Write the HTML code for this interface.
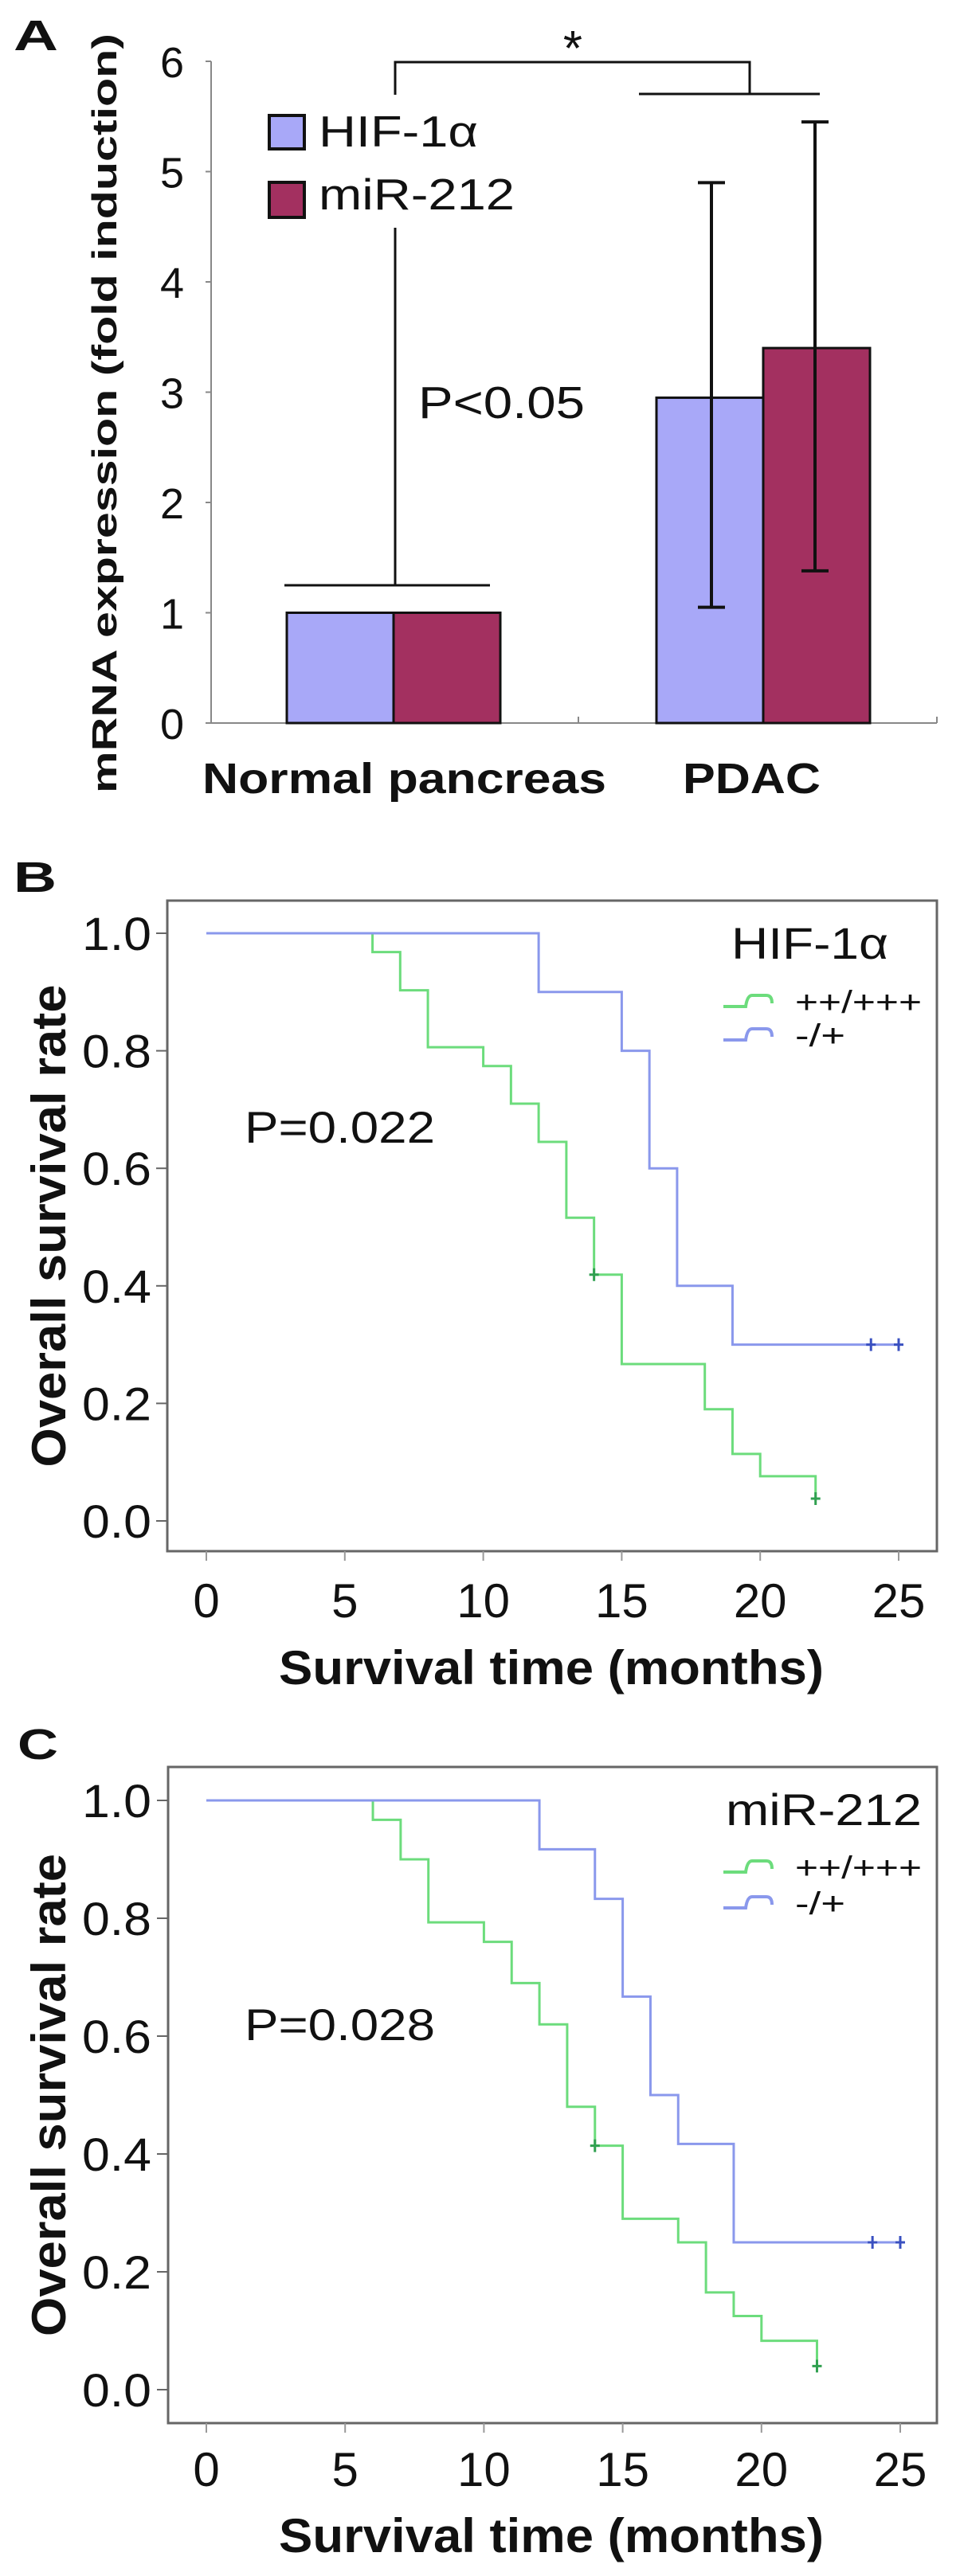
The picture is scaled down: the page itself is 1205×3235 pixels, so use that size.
<!DOCTYPE html>
<html><head><meta charset="utf-8"><style>
html,body{margin:0;padding:0;background:#fff;}
svg{display:block;}
text{font-family:"Liberation Sans",Arial,sans-serif;fill:#111;}
</style></head><body>
<svg id="fig" width="1205" height="3235" viewBox="0 0 1205 3235">
<g id="panelA">
<text x="17" y="63" font-size="54" font-weight="bold" textLength="56" lengthAdjust="spacingAndGlyphs">A</text>
<text transform="translate(146,519) rotate(-90)" text-anchor="middle" font-size="44" font-weight="bold" textLength="954" lengthAdjust="spacingAndGlyphs">mRNA expression (fold induction)</text>
<g id="aAxes"></g>
<g id="aBars"></g>
<text x="254" y="996" font-size="54" font-weight="bold" textLength="507" lengthAdjust="spacingAndGlyphs">Normal pancreas</text>
<text x="857" y="996" font-size="54" font-weight="bold" textLength="173" lengthAdjust="spacingAndGlyphs">PDAC</text>
<rect x="338" y="145" width="44" height="42" fill="#a8a8f8" stroke="#111" stroke-width="4"/>
<text x="400" y="184" font-size="55" textLength="200" lengthAdjust="spacingAndGlyphs">HIF-1α</text>
<rect x="338" y="229" width="44" height="44" fill="#a33060" stroke="#111" stroke-width="4"/>
<text x="400" y="263" font-size="55" textLength="246" lengthAdjust="spacingAndGlyphs">miR-212</text>
<text x="525" y="525" font-size="57" textLength="209" lengthAdjust="spacingAndGlyphs">P&lt;0.05</text>
<text x="719" y="82" font-size="62" text-anchor="middle">*</text>
<path d="M357,735 H615 M496,735 V286 M496,119 V78 H941 V118 M802,118 H1029" fill="none" stroke="#111" stroke-width="3"/>
</g>
<g id="panelB">
<text x="17" y="1120" font-size="54" font-weight="bold" textLength="54" lengthAdjust="spacingAndGlyphs">B</text>
<g id="bPlot"></g>
<text x="918" y="1204" font-size="56" textLength="197" lengthAdjust="spacingAndGlyphs">HIF-1α</text>
<text x="307" y="1435" font-size="56" textLength="239" lengthAdjust="spacingAndGlyphs">P=0.022</text>
</g>
<g id="panelC">
<text x="22" y="2209" font-size="54" font-weight="bold" textLength="51" lengthAdjust="spacingAndGlyphs">C</text>
<g id="cPlot"></g>
<text x="911" y="2292" font-size="56" textLength="246" lengthAdjust="spacingAndGlyphs">miR-212</text>
<text x="307" y="2562" font-size="56" textLength="239" lengthAdjust="spacingAndGlyphs">P=0.028</text>
</g>
</svg>
<script>
const aGroups = ["Normal pancreas", "PDAC"];
const aHif = [1.0, 2.95];
const aMir = [1.0, 3.4];
const aHifLo = [null, 1.05];
const aHifHi = [null, 4.9];
const aMirLo = [null, 1.38];
const aMirHi = [null, 5.45];
const aTicks = [0, 1, 2, 3, 4, 5, 6];

const bTicksX = [0, 5, 10, 15, 20, 25];
const bTicksY = ["0.0", "0.2", "0.4", "0.6", "0.8", "1.0"];
const bHighT = [6, 7, 8, 10, 11, 12, 13, 14, 15, 18, 19, 20, 22];
const bHighS = [0.968, 0.903, 0.806, 0.774, 0.71, 0.645, 0.516, 0.419, 0.267, 0.19, 0.114, 0.076, 0.038];
const bHighEnd = 22;
const bHighCens = [14, 22];
const bLowT = [12, 15, 16, 17, 19];
const bLowS = [0.9, 0.8, 0.6, 0.4, 0.3];
const bLowEnd = 25;
const bLowCens = [24, 25];

const cHighT = [6, 7, 8, 10, 11, 12, 13, 14, 15, 17, 18, 19, 20, 22];
const cHighS = [0.967, 0.9, 0.793, 0.76, 0.69, 0.62, 0.48, 0.414, 0.29, 0.25, 0.165, 0.125, 0.083, 0.04];
const cHighEnd = 22;
const cHighCens = [14, 22];
const cLowT = [12, 14, 15, 16, 17, 19];
const cLowS = [0.917, 0.833, 0.667, 0.5, 0.417, 0.25];
const cLowEnd = 25;
const cLowCens = [24, 25];

const NS = "http://www.w3.org/2000/svg";
function mk(parent, tag, attrs, txt) {
  const e = document.createElementNS(NS, tag);
  for (const k in attrs) e.setAttribute(k, attrs[k]);
  if (txt !== undefined) e.textContent = txt;
  parent.appendChild(e);
  return e;
}

(function(){
  const y = v => 908 - v * 138.5;
  const ax = document.getElementById("aAxes");
  const axisLine = mk(ax, "path", {d:"M265,77 V908 H1176 M726,908 V900 M1176,908 V900", fill:"none", stroke:"#888", "stroke-width":2});
  
  
  aTicks.forEach(t => {
    const tk = mk(ax, "line", {x1:258, x2:265, y1:y(t), y2:y(t), stroke:"#888", "stroke-width":2});
    
    
    const lb = mk(ax, "text", {x:231, y:y(t)+20, "font-size":54, "text-anchor":"end"}, String(t));
    
    
  });
  const bars = document.getElementById("aBars");
  const groupLeft = [360, 824];
  const bw = 134;
  aGroups.forEach((g, i) => {
    const x0 = groupLeft[i];
    const r1 = mk(bars, "rect", {x:x0, y:y(aHif[i]), width:bw, height:y(0)-y(aHif[i]), fill:"#a8a8f8", stroke:"#111", "stroke-width":3});
    
    
    const r2 = mk(bars, "rect", {x:x0+bw, y:y(aMir[i]), width:bw, height:y(0)-y(aMir[i]), fill:"#a33060", stroke:"#111", "stroke-width":3});
    
    
    if (aHifLo[i] !== null) {
      const cx = x0 + bw/2 + 2;
      const e = mk(bars, "path", {d:`M${cx},${y(aHifLo[i])} V${y(aHifHi[i])} M${cx-17},${y(aHifHi[i])} H${cx+17} M${cx-17},${y(aHifLo[i])} H${cx+17}`, stroke:"#111", "stroke-width":4, fill:"none"});
      
      
    }
    if (aMirLo[i] !== null) {
      const cx = x0 + bw + bw/2 - 2;
      const e = mk(bars, "path", {d:`M${cx},${y(aMirLo[i])} V${y(aMirHi[i])} M${cx-17},${y(aMirHi[i])} H${cx+17} M${cx-17},${y(aMirLo[i])} H${cx+17}`, stroke:"#111", "stroke-width":4, fill:"none"});
      
      
    }
  });
})();

function survival(gid, box, y1px, y0px, x0px, x25px, high, low, tickLabY, titleY, legY) {
  const g = document.getElementById(gid);
  const xs = t => x0px + (x25px - x0px) * t / 25;
  const ys = s => y0px + (y1px - y0px) * s;
  const fr = mk(g, "rect", {x:box[0], y:box[1], width:box[2]-box[0], height:box[3]-box[1], fill:"none", stroke:"#666", "stroke-width":3});
  
  
  bTicksY.forEach((lab) => {
    const v = parseFloat(lab);
    const tk = mk(g, "line", {x1:box[0]-14, x2:box[0], y1:ys(v), y2:ys(v), stroke:"#666", "stroke-width":2});
    
    
    const tl = mk(g, "text", {x:103, y:ys(v)+21, "font-size":58, textLength:87, lengthAdjust:"spacingAndGlyphs"}, lab);
    
    
  });
  bTicksX.forEach(t => {
    const tk = mk(g, "line", {x1:xs(t), x2:xs(t), y1:box[3], y2:box[3]+12, stroke:"#999", "stroke-width":2});
    
    
    const tl = mk(g, "text", {x:xs(t), y:tickLabY, "font-size":60, "text-anchor":"middle"}, String(t));
    
    
  });
  const xt = mk(g, "text", {x:350, y:titleY, "font-size":60, "font-weight":"bold", textLength:684, lengthAdjust:"spacingAndGlyphs"}, "Survival time (months)");
  
  
  const cy = (box[1] + box[3]) / 2;
  const yt = mk(g, "text", {transform:`translate(82,${cy}) rotate(-90)`, "text-anchor":"middle", "font-size":60, "font-weight":"bold", textLength:606, lengthAdjust:"spacingAndGlyphs"}, "Overall survival rate");
  
  
  [high, low].forEach((ser) => {
    let d = `M${xs(0)},${ys(1)}`;
    ser.T.forEach((t, i) => { d += ` H${xs(t)} V${ys(ser.S[i])}`; });
    d += ` H${xs(ser.end)}`;
    const p = mk(g, "path", {d:d, fill:"none", stroke:ser.color, "stroke-width":3});
    
    
    ser.cens.forEach(ct => {
      let s = 1;
      ser.T.forEach((t, i) => { if (t <= ct) s = ser.S[i]; });
      const c = mk(g, "path", {d:`M${xs(ct)},${ys(s)-8} V${ys(s)+8} M${xs(ct)-6},${ys(s)} H${xs(ct)+6}`, stroke:ser.dark, "stroke-width":3});
      
      
    });
  });
  [[high, legY[0]], [low, legY[1]]].forEach(([ser, ly]) => {
    const sym = mk(g, "path", {d:`M908,${ly+6} H936 Q938,${ly-8} 944,${ly-8} H962 Q969,${ly-8} 969,${ly+2}`, fill:"none", stroke:ser.color, "stroke-width":4});
    
    
    const lt = mk(g, "text", {x:998, y:ly+14, "font-size":40, textLength:ser.label.length>3?159:63, lengthAdjust:"spacingAndGlyphs"}, ser.label);
    
    
  });
}
survival("bPlot", [210,1131,1176,1948], 1172, 1910, 259, 1128,
  {T:bHighT, S:bHighS, end:bHighEnd, cens:bHighCens, color:"#6cdc7c", dark:"#30a050", name:"high", label:"++/+++"},
  {T:bLowT, S:bLowS, end:bLowEnd, cens:bLowCens, color:"#8a98ec", dark:"#3a50c0", name:"low", label:"-/+"},
  2031, 2115, [1258, 1300]);
survival("cPlot", [211,2219,1176,3043], 2261, 3001, 259, 1130,
  {T:cHighT, S:cHighS, end:cHighEnd, cens:cHighCens, color:"#6cdc7c", dark:"#30a050", name:"high", label:"++/+++"},
  {T:cLowT, S:cLowS, end:cLowEnd, cens:cLowCens, color:"#8a98ec", dark:"#3a50c0", name:"low", label:"-/+"},
  3122, 3205, [2345, 2390]);
</script>
</body></html>
